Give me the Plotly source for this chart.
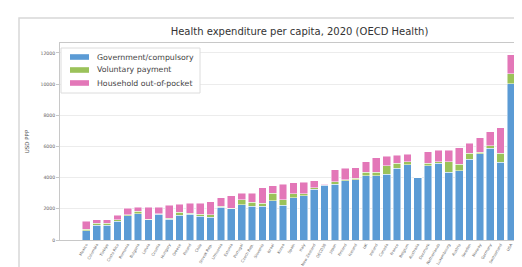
import plotly.graph_objects as go

countries = ["Mexico", "Colombia", "Türkiye", "Costa Rica", "Romania", "Bulgaria", "Latvia",
             "Croatia", "Hungary", "Greece", "Poland", "Chile", "Slovak Rep.", "Lithuania",
             "Estonia", "Portugal", "Czech Rep.", "Slovenia", "Israel", "Korea", "Spain",
             "Italy", "New Zealand", "OECD38", "Japan", "Finland", "Iceland", "UK",
             "Ireland", "Canada", "France", "Belgium", "Australia", "Denmark", "Netherlands",
             "Luxembourg", "Austria", "Sweden", "Norway", "Germany", "Switzerland", "USA"]

government = [600, 940, 940, 1195, 1555, 1683, 1300, 1650, 1342, 1577, 1661, 1512, 1448, 2087,
              2002, 2258, 2151, 2151, 2513, 2215, 2700, 2833, 3259, 3520, 3578, 3791, 3855, 4132,
              4132, 4217, 4600, 4813, 4004, 4771, 4920, 4345, 4430, 5197, 5538, 5878, 4984, 10032]

voluntary = [100, 150, 120, 100, 64, 148, 30, 30, 64, 213, 64, 149, 170, 64,
             40, 320, 277, 213, 490, 362, 277, 128, 107, 20, 170, 64, 107, 213,
             213, 554, 320, 213, 0, 149, 107, 682, 426, 362, 85, 170, 575, 639]

out_of_pocket = [495, 210, 240, 282, 426, 256, 757, 407, 809, 510, 639, 703, 852, 575,
                 812, 425, 575, 1001, 490, 1001, 703, 745, 425, 38, 746, 745, 681, 681,
                 937, 617, 532, 469, 0, 745, 745, 745, 1065, 639, 937, 895, 1640, 1214]

series_names = ["Government/compulsory", "Voluntary payment", "Household out-of-pocket"]
series_colors = ["#5b9bd5", "#9bc25a", "#e377b8"]

W, H = 522, 267
L, R, T, B = 52, 0, 35, 35
pw = W - L - R
ph = H - T - B


def xp(px):
    return (px - L) / pw


def yp(py):
    return (H - B - py) / ph


fig = go.Figure()
for name, vals, col in zip(series_names, [government, voluntary, out_of_pocket], series_colors):
    fig.add_trace(go.Bar(
        x=countries, y=vals, name=name, showlegend=False,
        marker=dict(color=col, line=dict(color="rgba(255,255,255,0.8)", width=0.6)),
    ))

# outer frame
shapes = [dict(
    type="rect", xref="paper", yref="paper",
    x0=xp(11), x1=1.2, y0=-0.5, y1=yp(10),
    line=dict(color="#d8d8d8", width=1.5), fillcolor="rgba(0,0,0,0)", layer="below",
)]
# legend box
shapes.append(dict(
    type="rect", xref="paper", yref="paper",
    x0=xp(53), x1=xp(192), y0=yp(85), y1=yp(40),
    line=dict(color="#dcdcdc", width=1), fillcolor="white", layer="above",
))
annotations = []
for i, (name, col) in enumerate(zip(series_names, series_colors)):
    cy = 49 + i * 13
    shapes.append(dict(
        type="rect", xref="paper", yref="paper",
        x0=xp(62), x1=xp(81), y0=yp(cy + 2.8), y1=yp(cy - 2.8),
        line=dict(width=0), fillcolor=col, layer="above",
    ))
    annotations.append(dict(
        text=name, xref="paper", yref="paper", x=xp(87), y=yp(cy),
        xanchor="left", yanchor="middle", showarrow=False,
        font=dict(size=7.8, color="#444"),
    ))

fig.update_layout(
    width=W, height=H,
    margin=dict(l=L, r=R, t=T, b=B, pad=0),
    barmode="stack",
    bargap=0.26,
    paper_bgcolor="white",
    plot_bgcolor="white",
    font=dict(family="DejaVu Sans", color="#444"),
    title=dict(
        text="Health expenditure per capita, 2020 (OECD Health)",
        x=xp(291.5), xref="paper", xanchor="center",
        y=1 - 23.5 / H, yref="container", yanchor="middle",
        font=dict(size=10, color="#333"),
    ),
    showlegend=False,
    xaxis=dict(
        type="category",
        range=[-2.54, 41 + (W - 503) / 10.34],
        tickangle=-60,
        tickfont=dict(size=3.8, color="#666"),
        showline=True, linecolor="#c8c8c8", linewidth=1, mirror=True,
        ticks="", showgrid=False,
    ),
    yaxis=dict(
        range=[0, 12640],
        tickvals=[0, 2000, 4000, 6000, 8000, 10000, 12000],
        tickformat="d",
        tickfont=dict(size=4.6, color="#666"),
        showline=True, linecolor="#c8c8c8", linewidth=1,
        showgrid=True, gridcolor="#ececec", gridwidth=1,
        ticks="outside", ticklen=3, tickcolor="#c8c8c8",
        zeroline=False,
        title=dict(text="USD PPP", font=dict(size=5.5, color="#555"), standoff=10),
    ),
    shapes=shapes,
    annotations=annotations,
)

fig.write_html("out.html")
